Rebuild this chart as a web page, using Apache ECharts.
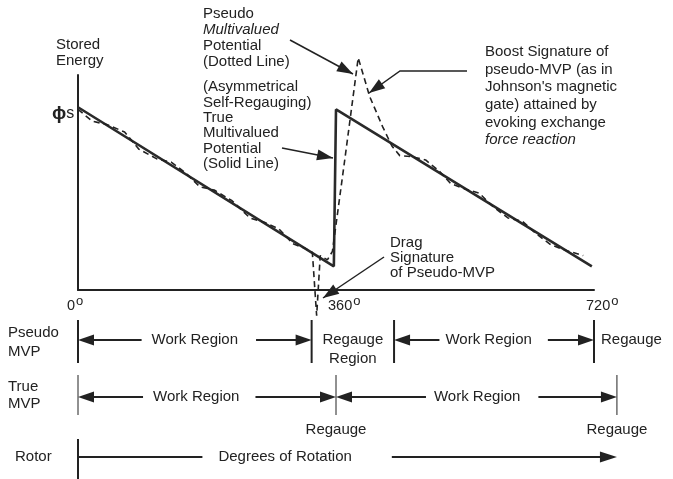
<!DOCTYPE html>
<html>
<head>
<meta charset="utf-8">
<script src="https://cdn.jsdelivr.net/npm/echarts@6/dist/echarts.min.js"></script>
<style>
  html, body { margin: 0; padding: 0; background: #fff; }
  #chart { width: 673px; height: 479px; }
</style>
</head>
<body>
<div id="chart"></div>
<script>
// True multivalued potential (solid line): rotor degrees / stored energy
const trueDeg = [0, 357, 360, 717];
const trueVal = [85, 11, 84, 11];

// Pseudo multivalued potential (dashed line), wiggles, drag dip and boost peak
const pseudoDeg = [0, 20, 40, 65, 85, 110, 130, 150, 170, 190, 215, 240, 260, 280, 300, 316,
  327, 333, 338, 348, 355, 372, 391, 407, 425, 438, 449, 466, 485, 505, 520, 540, 560, 580,
  600, 620, 640, 660, 680, 705];
const pseudoVal = [84, 78.5, 77, 73.5, 65.5, 61, 59.5, 54.5, 48, 46.5, 41.5, 33.5, 31.5, 28.5, 21.5, 19.5,
  17.5, -12, 16, 14, 18, 60, 108, 90, 76, 67, 62.5, 62, 60.5, 55, 49.5, 47, 45, 38.5,
  33.5, 32, 26, 21, 18.5, 16];

const degTicks = [0, 360, 720];
const phiS = 82;

// region rows below the axis (boundaries in degrees)
const pseudoBounds = [0, 326, 441, 720];
const pseudoWorkLabelAt = [163, 573];
const trueBounds = [0, 360, 752];
const trueWorkLabelAt = [165, 557];
const rotorSpan = [0, 752];
const rotorLabelAt = 289;

const FONT = '"Liberation Sans", Arial, Helvetica, sans-serif';
const INK = '#222';

const chart = echarts.init(document.getElementById('chart'));

chart.setOption({
  animation: false,
  backgroundColor: '#fff',
  grid: { left: 78, top: 75, width: 516, height: 215, outerBoundsMode: 'none' },
  xAxis: {
    type: 'value', min: 0, max: 720, interval: 360,
    axisLine: { show: true, onZero: false, lineStyle: { color: INK, width: 2 } },
    axisTick: { show: false }, axisLabel: { show: false }, splitLine: { show: false }
  },
  yAxis: {
    type: 'value', min: 0, max: 100,
    axisLine: { show: true, lineStyle: { color: INK, width: 2 } },
    axisTick: { show: false }, axisLabel: { show: false }, splitLine: { show: false }
  },
  series: [
    {
      name: 'True MVP', type: 'line', clip: false, symbol: 'none',
      data: trueDeg.map((d, i) => [d, trueVal[i]]),
      lineStyle: { color: '#2a2a2a', width: 2.6 }
    },
    {
      name: 'Pseudo MVP', type: 'line', clip: false, symbol: 'none',
      data: pseudoDeg.map((d, i) => [d, pseudoVal[i]]),
      lineStyle: { color: '#222', width: 1.6, type: [6, 4] }
    }
  ]
});

const px = deg => chart.convertToPixel({ xAxisIndex: 0 }, deg);
const pt = (deg, v) => chart.convertToPixel({ gridIndex: 0 }, [deg, v]);

const measure = document.createElement('canvas').getContext('2d');
function textWidth(s, size) {
  measure.font = size + 'px ' + FONT;
  return measure.measureText(s).width;
}

const g = [];
function text(x, y, s, opts) {
  opts = opts || {};
  const size = opts.size || 15;
  g.push({
    type: 'text', x: x, y: y, z: 10,
    style: {
      text: s, fill: INK,
      font: (opts.italic ? 'italic ' : '') + size + 'px ' + FONT,
      textAlign: opts.align || 'left', align: opts.align || 'left',
      textVerticalAlign: 'middle', verticalAlign: 'middle'
    }
  });
}
function block(x, y0, lh, lines, opts) {
  lines.forEach((l, i) => {
    const o = Object.assign({}, opts || {});
    let s = l;
    if (typeof l === 'object') { s = l.t; o.italic = l.i; }
    text(x, y0 + i * lh, s, o);
  });
}
function line(x1, y1, x2, y2, w) {
  g.push({ type: 'line', z: 10, shape: { x1, y1, x2, y2 }, style: { stroke: INK, lineWidth: w || 1.5 } });
}
function head(tx, ty, fx, fy, len, half) {
  const dx = tx - fx, dy = ty - fy, d = Math.hypot(dx, dy);
  const ux = dx / d, uy = dy / d;
  const bx = tx - ux * len, by = ty - uy * len;
  g.push({
    type: 'polygon', z: 11,
    shape: { points: [[tx, ty], [bx - uy * half, by + ux * half], [bx + uy * half, by - ux * half]] },
    style: { fill: INK }
  });
}
function arrow(points, w, len, half) {
  g.push({ type: 'polyline', z: 10, shape: { points }, style: { stroke: INK, lineWidth: w || 1.5 } });
  const n = points.length;
  const tip = points[n - 1], from = points[n - 2];
  const dx = tip[0] - from[0], dy = tip[1] - from[1], d = Math.hypot(dx, dy);
  head(tip[0], tip[1], tip[0] - dx / d * 20, tip[1] - dy / d * 20, len || 15, half || 5);
}
// double arrow between two bars with a label centred at labelX
function span(xa, xb, y, label, labelX, w, gapL, gapR) {
  const tw = textWidth(label, 15);
  const l = labelX - tw / 2 - gapL, r = labelX + tw / 2 + gapR;
  line(xa + 10, y, l, y, w);
  line(r, y, xb - 10, y, w);
  head(xa, y, xa + 20, y, 16, 5.5);
  head(xb, y, xb - 20, y, 16, 5.5);
  text(labelX, y, label, { align: 'center' });
}

// axis labels with superscript o
const axisY = pt(0, 0)[1];
degTicks.forEach(d => {
  let x = px(d);
  if (d === 0) x -= 11; else x -= 8;
  g.push({
    type: 'text', x: x, y: axisY + 16, z: 10,
    style: {
      text: d + '{s|o}', fill: INK, font: '14.5px ' + FONT,
      textAlign: 'left', align: 'left', textVerticalAlign: 'middle', verticalAlign: 'middle',
      rich: { s: { fontSize: 13, fontFamily: FONT, fill: INK, padding: [0, 0, 9, 1] } }
    }
  });
});

// y axis labels
block(56, 45, 16, ['Stored', 'Energy']);
const phiY = pt(0, phiS)[1];
g.push({
  type: 'text', x: 52, y: phiY, z: 10,
  style: {
    text: '{p|ϕ}s', fill: INK, font: '16px ' + FONT,
    textAlign: 'left', align: 'left', textVerticalAlign: 'middle', verticalAlign: 'middle',
    rich: { p: { fontSize: 19, fontWeight: 'bold', fontFamily: FONT, fill: INK } }
  }
});

// annotations above the curves
block(203, 14, 16, ['Pseudo', { t: 'Multivalued', i: true }, 'Potential', '(Dotted Line)']);
arrow([[290, 40], [353, 74]], 1.5, 16, 5.5);
block(203, 87, 15.4, ['(Asymmetrical', 'Self-Regauging)', 'True', 'Multivalued', 'Potential', '(Solid Line)']);
arrow([[282, 148], [333, 158]], 1.5, 16, 5.5);
block(485, 52, 17.6, ['Boost Signature of', 'pseudo-MVP (as in', "Johnson's magnetic",
  'gate) attained by', 'evoking exchange', { t: 'force reaction', i: true }]);
arrow([[467, 71], [400, 71], [369, 93]], 1.5, 16, 5.5);
block(390, 243, 15, ['Drag', 'Signature', 'of Pseudo-MVP']);
arrow([[384, 257], [323, 298]], 1.5, 16, 5.5);

// Pseudo MVP row
const yP = 340;
block(8, 333, 19, ['Pseudo', 'MVP']);
pseudoBounds.forEach(d => line(px(d), 320, px(d), 363, 2));
span(px(pseudoBounds[0]), px(pseudoBounds[1]), yP, 'Work Region', px(pseudoWorkLabelAt[0]), 2, 10, 18);
span(px(pseudoBounds[2]), px(pseudoBounds[3]), yP, 'Work Region', px(pseudoWorkLabelAt[1]), 2, 6, 16);
block((px(pseudoBounds[1]) + px(pseudoBounds[2])) / 2, 340, 19, ['Regauge', 'Region'], { align: 'center' });
text(px(pseudoBounds[3]) + 7, yP, 'Regauge');

// True MVP row
const yT = 397;
block(8, 387, 17, ['True', 'MVP']);
trueBounds.forEach(d => {
  line(px(d), 375, px(d), 415, 1);
  if (d > 0) text(px(d), 430, 'Regauge', { align: 'center' });
});
span(px(trueBounds[0]), px(trueBounds[1]), yT, 'Work Region', px(trueWorkLabelAt[0]), 2, 10, 16);
span(px(trueBounds[1]), px(trueBounds[2]), yT, 'Work Region', px(trueWorkLabelAt[1]), 2, 8, 18);

// Rotor row
const yR = 457;
text(15, yR, 'Rotor');
line(px(rotorSpan[0]), 439, px(rotorSpan[0]), 479, 2);
const rw = textWidth('Degrees of Rotation', 15);
const rx = px(rotorLabelAt);
line(px(rotorSpan[0]), yR, rx - rw / 2 - 16, yR, 2);
line(rx + rw / 2 + 40, yR, px(rotorSpan[1]) - 10, yR, 2);
head(px(rotorSpan[1]), yR, px(rotorSpan[1]) - 20, yR, 17, 5.5);
text(rx, yR, 'Degrees of Rotation', { align: 'center' });

chart.setOption({ graphic: g });
</script>
</body>
</html>
